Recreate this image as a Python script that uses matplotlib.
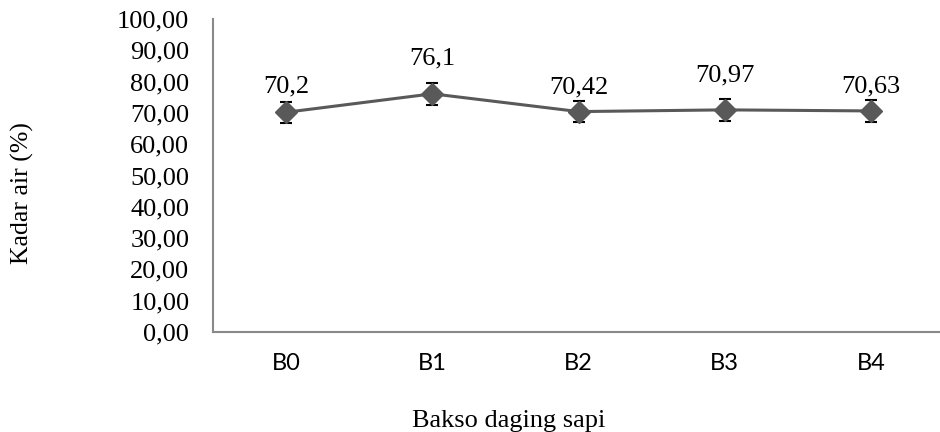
import matplotlib
matplotlib.use('Agg')
import matplotlib.pyplot as plt

# data
kategori = ['B0', 'B1', 'B2', 'B3', 'B4']
kadar_air = [70.2, 76.1, 70.42, 70.97, 70.63]
label_nilai = ['70,2', '76,1', '70,42', '70,97', '70,63']
galat = [3.4, 3.5, 3.4, 3.5, 3.5]
y_ticks = [0, 10, 20, 30, 40, 50, 60, 70, 80, 90, 100]

# jarak label data di atas titik (pt), seperti penempatan di Excel
jarak_label = [14, 21, 13, 20.5, 13.5]

serif = 'Liberation Serif'
sans = 'Lato'

fig = plt.figure(figsize=(9.4, 4.32), dpi=100)
ax = fig.add_axes([0.2265, 0.2315, 0.778, 0.7245])

x = list(range(len(kategori)))
ax.errorbar(x, kadar_air, yerr=galat, color='#595959', lw=2.2,
            marker='D', ms=11, mfc='#595959', mec='#595959',
            ecolor='black', elinewidth=1.5, capsize=4.5, capthick=1.5)

for xi, yi, lab, d in zip(x, kadar_air, label_nilai, jarak_label):
    ax.annotate(lab, (xi, yi), xytext=(0, d), textcoords='offset points',
                ha='center', va='baseline', fontsize=19, family=serif)

ax.set_xlim(-0.5, len(kategori) - 0.5)
ax.set_ylim(0, 100)
ax.set_yticks(y_ticks)
ax.set_yticklabels([f'{v:.2f}'.replace('.', ',') for v in y_ticks],
                   fontsize=19, family=serif)
ax.set_xticks(x)
ax.set_xticklabels(kategori, fontsize=17, family=sans)
ax.tick_params(length=0)
ax.tick_params(axis='x', pad=15)
ax.tick_params(axis='y', pad=17)

for s in ['top', 'right']:
    ax.spines[s].set_visible(False)
for s in ['left', 'bottom']:
    ax.spines[s].set_color('#898989')
    ax.spines[s].set_linewidth(1.5)

fig.text(0.024, 0.553, 'Kadar air (%)', rotation=90, ha='center', va='center',
         fontsize=18.5, family=serif)
fig.text(0.541, 0.0116, 'Bakso daging sapi', ha='center', va='baseline',
         fontsize=19, family=serif)

fig.savefig('out.png', dpi=100)
